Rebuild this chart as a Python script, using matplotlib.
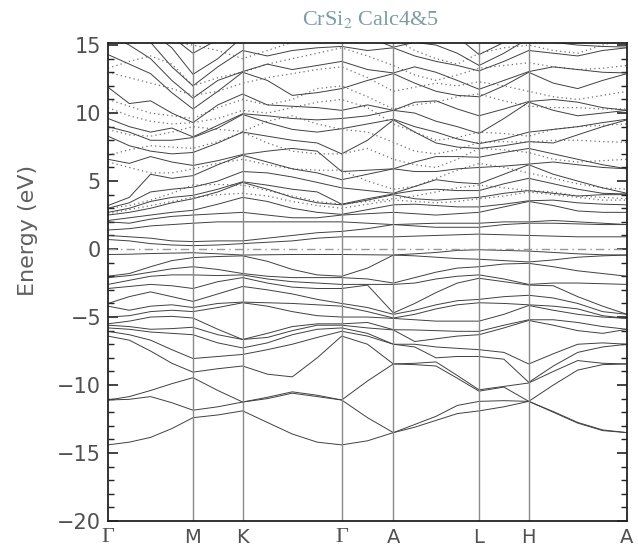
import numpy as np
import matplotlib
matplotlib.use("Agg")
import matplotlib.pyplot as plt

# high symmetry path (fraction of total path length)
kpath_labels = ["Γ", "M", "K", "Γ", "A", "L", "H", "A"]
kpath_pos = [0.0, 0.1637, 0.2594, 0.4502, 0.5498, 0.7149, 0.8106, 1.0]

k_samples = [0.0, 0.041, 0.082, 0.123, 0.1637, 0.2116, 0.2594, 0.307, 0.355, 0.403,
             0.4502, 0.5, 0.5498, 0.591, 0.632, 0.673, 0.7149, 0.7628, 0.8106,
             0.858, 0.905, 0.953, 1.0]

# occupied bands (eV), one row per k sample, both calculations coincide here
valence = [
    [-0.4, -2.0, -2.1, -2.6, -2.9, -4.0, -4.2, -5.0, -5.5, -5.6, -5.8, -6.05, -6.4, -11.1, -11.1, -14.4],  # G
    [-0.38, -1.8, -1.95, -2.3, -2.75, -3.5, -4.5, -4.9, -5.3, -5.7, -5.9, -6.3, -6.7, -10.85, -11.05, -14.2],
    [-0.33, -1.3, -1.7, -2.0, -2.6, -3.15, -4.2, -4.6, -5.0, -5.9, -6.1, -6.7, -7.5, -10.4, -10.85, -13.85],
    [-0.3, -0.85, -1.45, -1.9, -2.7, -3.5, -4.1, -4.5, -4.95, -5.85, -6.2, -7.4, -8.4, -9.9, -11.3, -13.2],
    [-0.27, -0.63, -1.3, -1.9, -2.9, -3.85, -4.3, -4.6, -5.07, -5.75, -6.3, -8.05, -9.05, -9.46, -11.85, -12.4],  # M
    [-0.35, -0.55, -1.5, -1.95, -2.4, -3.3, -4.0, -4.3, -5.9, -6.3, -6.9, -7.9, -8.8, -10.4, -11.6, -12.2],
    [-0.44, -0.5, -1.8, -1.9, -2.1, -2.75, -3.9, -3.95, -6.65, -6.65, -7.27, -7.75, -8.6, -11.25, -11.25, -11.9],  # K
    [-0.42, -0.9, -2.0, -2.2, -2.5, -3.0, -3.95, -4.2, -6.2, -6.5, -6.9, -7.4, -9.2, -10.9, -11.0, -12.75],
    [-0.4, -1.5, -2.1, -2.4, -2.8, -3.3, -4.0, -4.6, -5.7, -6.0, -6.3, -7.0, -9.4, -10.5, -10.6, -13.6],
    [-0.4, -1.9, -2.1, -2.5, -2.9, -3.7, -4.1, -4.9, -5.5, -5.6, -5.9, -6.5, -8.0, -10.75, -10.85, -14.2],
    [-0.4, -2.0, -2.1, -2.6, -2.9, -4.0, -4.2, -5.0, -5.5, -5.6, -5.8, -6.05, -6.4, -11.1, -11.1, -14.4],  # G
    [-0.42, -1.4, -2.2, -2.6, -2.65, -4.3, -4.6, -5.0, -5.4, -5.8, -6.2, -6.4, -7.0, -9.7, -12.4, -14.1],
    [-0.44, -0.44, -2.5, -2.6, -4.7, -4.8, -5.07, -5.1, -5.93, -5.95, -7.0, -7.0, -8.45, -8.45, -13.5, -13.5],  # A
    [-0.35, -0.5, -2.1, -2.5, -4.0, -4.5, -4.8, -5.2, -5.95, -6.8, -7.0, -7.2, -8.4, -8.5, -12.9, -13.1],
    [-0.25, -0.6, -1.7, -2.2, -3.2, -4.1, -4.4, -5.3, -6.0, -6.6, -7.2, -8.0, -8.3, -8.6, -12.3, -12.6],
    [-0.1, -0.7, -1.4, -2.0, -2.5, -3.8, -4.1, -5.3, -6.05, -6.4, -7.3, -7.9, -9.3, -9.5, -11.5, -12.1],
    [-0.05, -0.75, -1.3, -1.9, -2.15, -3.7, -3.95, -5.3, -6.05, -6.3, -7.4, -7.9, -10.35, -10.45, -11.2, -11.9],  # L
    [-0.1, -0.85, -1.1, -2.2, -2.4, -3.5, -4.0, -4.8, -5.6, -5.8, -7.6, -8.1, -10.1, -10.15, -11.15, -11.6],
    [-0.15, -0.95, -1.05, -2.6, -2.65, -3.4, -4.1, -4.15, -5.2, -5.25, -8.45, -9.8, -9.85, -11.2, -11.2, -11.2],  # H
    [-0.25, -0.8, -1.3, -2.5, -2.7, -3.6, -4.2, -4.5, -5.2, -5.6, -7.7, -8.6, -9.0, -10.0, -11.95, -12.0],
    [-0.35, -0.6, -1.6, -2.5, -3.5, -4.0, -4.4, -4.8, -5.4, -6.0, -7.0, -7.6, -8.2, -8.9, -12.75, -12.8],
    [-0.42, -0.5, -1.8, -2.55, -4.2, -4.6, -4.9, -5.0, -5.7, -6.2, -6.9, -7.2, -8.4, -8.5, -13.3, -13.35],
    [-0.44, -0.44, -2.0, -2.6, -4.8, -4.8, -5.1, -5.1, -5.9, -5.9, -7.0, -7.0, -8.45, -8.45, -13.5, -13.5],  # A
]

# empty bands, calc 4 (solid)
conduction = [
    [0.7, 1.0, 1.4, 2.0, 2.1, 2.5, 2.7, 3.0, 3.2, 6.6, 8.3, 9.0, 9.6, 11.9, 14.3, 15.8, 16.5, 17.0, 17.5, 18.0],  # G
    [0.6, 0.9, 1.5, 1.9, 2.3, 2.7, 3.0, 3.4, 3.8, 6.3, 7.6, 8.6, 9.0, 10.7, 13.6, 15.0, 16.0, 16.8, 17.2, 17.8],
    [0.4, 0.8, 1.7, 2.2, 2.5, 3.0, 3.5, 4.2, 5.5, 6.8, 7.2, 8.0, 8.6, 10.9, 12.9, 14.0, 15.2, 16.0, 16.8, 17.5],
    [0.3, 0.6, 1.8, 2.4, 2.7, 3.4, 3.8, 4.4, 5.2, 6.4, 7.0, 8.0, 8.9, 10.0, 11.5, 12.4, 13.4, 14.8, 15.6, 17.0],
    [0.25, 0.55, 1.9, 2.5, 2.85, 3.7, 3.95, 4.55, 5.4, 6.15, 7.1, 8.2, 8.25, 9.3, 10.3, 11.1, 12.0, 12.85, 14.4, 16.0],  # M
    [0.3, 0.6, 2.0, 2.6, 3.3, 4.2, 4.4, 5.0, 6.2, 6.5, 7.8, 8.9, 9.1, 10.6, 11.6, 12.4, 13.4, 14.0, 15.4, 16.5],
    [0.4, 0.6, 2.0, 2.7, 3.8, 4.9, 4.95, 5.7, 6.9, 6.95, 8.6, 9.9, 9.95, 11.4, 13.0, 13.05, 14.6, 15.6, 16.5, 17.0],  # K
    [0.5, 0.8, 2.0, 2.5, 3.5, 4.4, 4.7, 5.6, 6.4, 7.2, 8.3, 9.3, 9.8, 10.6, 12.4, 13.6, 14.2, 15.4, 16.4, 17.2],
    [0.6, 1.0, 2.0, 2.3, 3.0, 3.8, 4.4, 5.3, 5.9, 7.4, 8.0, 8.8, 9.6, 10.5, 11.3, 13.2, 14.6, 15.6, 16.6, 17.5],
    [0.8, 1.2, 2.0, 2.3, 2.7, 3.4, 4.2, 4.9, 5.6, 7.2, 7.8, 8.6, 9.5, 10.4, 11.5, 13.5, 14.8, 15.8, 16.8, 17.8],
    [0.9, 1.3, 2.0, 2.5, 2.55, 3.25, 3.3, 4.5, 5.1, 5.7, 7.0, 8.85, 9.6, 10.2, 11.8, 13.8, 14.9, 16.0, 17.0, 18.0],  # G
    [0.9, 1.5, 1.9, 2.6, 2.9, 3.6, 3.7, 4.3, 5.5, 5.8, 8.0, 9.2, 9.8, 10.6, 12.4, 13.2, 14.6, 15.6, 16.6, 17.5],
    [0.9, 1.8, 1.8, 2.7, 3.25, 4.0, 4.05, 4.1, 5.9, 5.9, 9.5, 9.55, 10.2, 10.2, 12.9, 12.95, 14.8, 14.85, 16.5, 17.0],  # A
    [0.95, 1.7, 1.85, 2.6, 3.3, 3.7, 4.3, 4.6, 5.7, 6.4, 8.6, 9.0, 10.0, 10.8, 12.2, 13.4, 14.2, 15.2, 16.2, 17.0],
    [1.0, 1.6, 1.9, 2.5, 3.2, 3.6, 4.4, 5.1, 5.7, 6.8, 7.8, 8.6, 9.4, 10.9, 11.6, 13.0, 13.8, 15.0, 15.8, 16.8],
    [1.05, 1.6, 1.9, 2.6, 3.1, 3.7, 4.3, 4.9, 5.9, 6.8, 7.5, 8.1, 9.0, 10.3, 11.3, 12.4, 13.5, 14.4, 15.6, 16.5],
    [1.1, 1.6, 1.9, 2.7, 3.1, 3.8, 4.3, 4.8, 6.0, 6.75, 7.4, 7.75, 8.5, 9.8, 11.2, 11.75, 13.1, 13.5, 14.3, 16.0],  # L
    [1.05, 1.8, 2.0, 3.1, 3.3, 4.1, 4.8, 5.5, 6.1, 7.1, 7.6, 8.1, 9.6, 10.3, 12.0, 12.4, 13.8, 14.4, 15.2, 16.5],
    [1.0, 1.9, 2.0, 3.5, 3.55, 4.3, 5.2, 6.2, 6.25, 7.4, 7.9, 8.6, 10.8, 10.85, 13.0, 13.05, 14.6, 15.5, 16.0, 17.0],  # H
    [0.95, 1.9, 2.1, 3.2, 3.6, 4.1, 4.8, 5.5, 6.4, 7.0, 7.8, 8.8, 10.2, 11.0, 12.2, 13.4, 14.4, 15.2, 16.0, 17.0],
    [0.9, 1.85, 2.0, 2.8, 3.4, 3.9, 4.4, 5.0, 6.2, 6.6, 8.4, 9.0, 9.8, 10.8, 11.8, 13.2, 14.2, 15.0, 16.2, 17.0],
    [0.9, 1.8, 1.9, 2.7, 3.3, 4.0, 4.1, 4.5, 6.0, 6.2, 9.0, 9.3, 10.0, 10.4, 12.4, 13.0, 14.6, 14.9, 16.4, 17.0],
    [0.9, 1.8, 1.8, 2.7, 3.25, 4.0, 4.05, 4.1, 5.9, 5.9, 9.5, 9.55, 10.2, 10.2, 12.9, 12.95, 14.8, 14.85, 16.5, 17.0],  # A
]

# empty bands, calc 5 (dotted), only where they differ from calc 4
calc5 = [
    [2.6, 3.0, 6.4, 6.9, 8.8, 10.4, 11.0, 13.0, 13.3, 15.5],  # G
    [2.9, 3.2, 6.0, 7.3, 8.4, 9.8, 10.5, 12.6, 13.8, 15.4],
    [3.2, 3.6, 5.6, 7.6, 8.3, 9.4, 10.0, 12.2, 14.2, 15.3],
    [3.5, 4.1, 5.6, 7.5, 8.6, 9.2, 9.8, 11.8, 13.6, 15.2],
    [3.8, 4.7, 5.9, 7.4, 9.0, 9.3, 9.6, 11.3, 12.0, 15.0],  # M
    [4.0, 4.75, 6.3, 7.9, 8.8, 9.6, 10.4, 11.6, 12.6, 14.6],
    [4.1, 4.7, 6.6, 8.6, 8.65, 10.2, 11.0, 12.2, 13.0, 14.0],  # K
    [3.9, 4.3, 6.2, 7.8, 9.4, 10.0, 10.6, 12.6, 13.6, 14.6],
    [3.5, 3.9, 5.9, 7.2, 9.8, 10.4, 11.0, 12.9, 14.0, 15.2],
    [3.2, 3.5, 5.8, 7.0, 9.2, 10.8, 11.8, 13.2, 14.4, 15.6],
    [3.0, 3.3, 5.8, 7.0, 8.8, 11.0, 12.0, 13.4, 14.8, 16.0],  # G
    [3.3, 3.5, 5.0, 7.4, 8.6, 10.4, 11.2, 12.6, 14.2, 15.6],
    [3.6, 3.7, 4.4, 6.6, 7.85, 9.2, 10.3, 11.6, 13.5, 15.5],  # A
    [3.5, 3.9, 4.6, 6.2, 7.2, 8.6, 10.6, 11.9, 12.8, 14.6],
    [3.4, 4.2, 5.2, 6.0, 7.0, 8.0, 10.8, 12.2, 12.4, 14.0],
    [3.5, 4.5, 5.8, 6.6, 7.3, 8.2, 11.2, 12.0, 12.8, 13.6],
    [3.7, 4.7, 6.3, 7.4, 7.85, 8.6, 11.4, 12.3, 13.3, 14.4],  # L
    [3.9, 4.5, 6.0, 7.3, 7.9, 8.5, 10.9, 12.0, 13.5, 14.8],
    [4.2, 4.3, 5.6, 7.1, 7.85, 8.3, 10.5, 11.6, 13.7, 15.0],  # H
    [4.0, 4.2, 5.2, 6.6, 8.0, 8.8, 10.4, 11.2, 13.4, 14.6],
    [3.8, 3.9, 4.8, 6.4, 8.0, 9.0, 10.4, 11.0, 13.2, 14.4],
    [3.6, 3.8, 4.5, 6.5, 7.9, 9.1, 10.3, 11.3, 13.3, 15.0],
    [3.6, 3.7, 4.4, 6.6, 7.85, 9.2, 10.3, 11.6, 13.5, 15.5],  # A
]

fig = plt.figure(figsize=(6.38, 5.51), dpi=100)
ax = fig.add_axes([0.1693, 0.0544, 0.8135, 0.8675])

k = np.array(k_samples)
ax.plot(k, np.array(calc5), color="#707070", lw=0.9, ls=(0, (1, 2.5)))
ax.plot(k, np.array(valence), color="#404040", lw=0.7)
ax.plot(k, np.array(conduction), color="#404040", lw=0.7)

for x in kpath_pos[1:-1]:
    ax.axvline(x, color="#8a8a8a", lw=1.0)
ax.axhline(0, color="#999999", lw=1.0, ls=(0, (6, 3, 1, 3)))

ax.set_xlim(0, 1)
ax.set_ylim(-20, 15.15)

ax.set_yticks(np.arange(-20, 16, 5))
ax.set_yticks(np.arange(-20, 16, 1), minor=True)
ax.tick_params(axis="y", which="both", direction="in", left=True, right=True,
               labelsize=15, labelcolor="#505050", color="#222222", pad=5)
ax.tick_params(axis="y", which="major", length=7, width=1.2)
ax.tick_params(axis="y", which="minor", length=4, width=1.0)
ax.set_yticklabels(["−20", "−15", "−10", "−5", "0", "5", "10", "15"],
                   family="DejaVu Sans")

ax.set_xticks(kpath_pos)
ax.set_xticklabels(kpath_labels, fontsize=14, color="#505050", family="DejaVu Sans")
ax.tick_params(axis="x", length=0, pad=5)
for lab in ax.get_xticklabels():
    if lab.get_text() == "Γ":
        lab.set_family("Liberation Serif")
        lab.set_fontsize(16)

for sp in ax.spines.values():
    sp.set_linewidth(1.3)
    sp.set_color("#222222")

ax.set_ylabel("Energy (eV)", fontsize=16, color="#606060", family="DejaVu Sans")
ax.yaxis.set_label_coords(-0.135, 0.607)

plt.rcParams["mathtext.fontset"] = "stix"
fig.text(0.58, 0.965, "CrSi$_2$ Calc4&5", ha="center", va="center", fontsize=16,
         color="#7f9ba6", family="Liberation Serif")

fig.savefig("out.png", dpi=100)
